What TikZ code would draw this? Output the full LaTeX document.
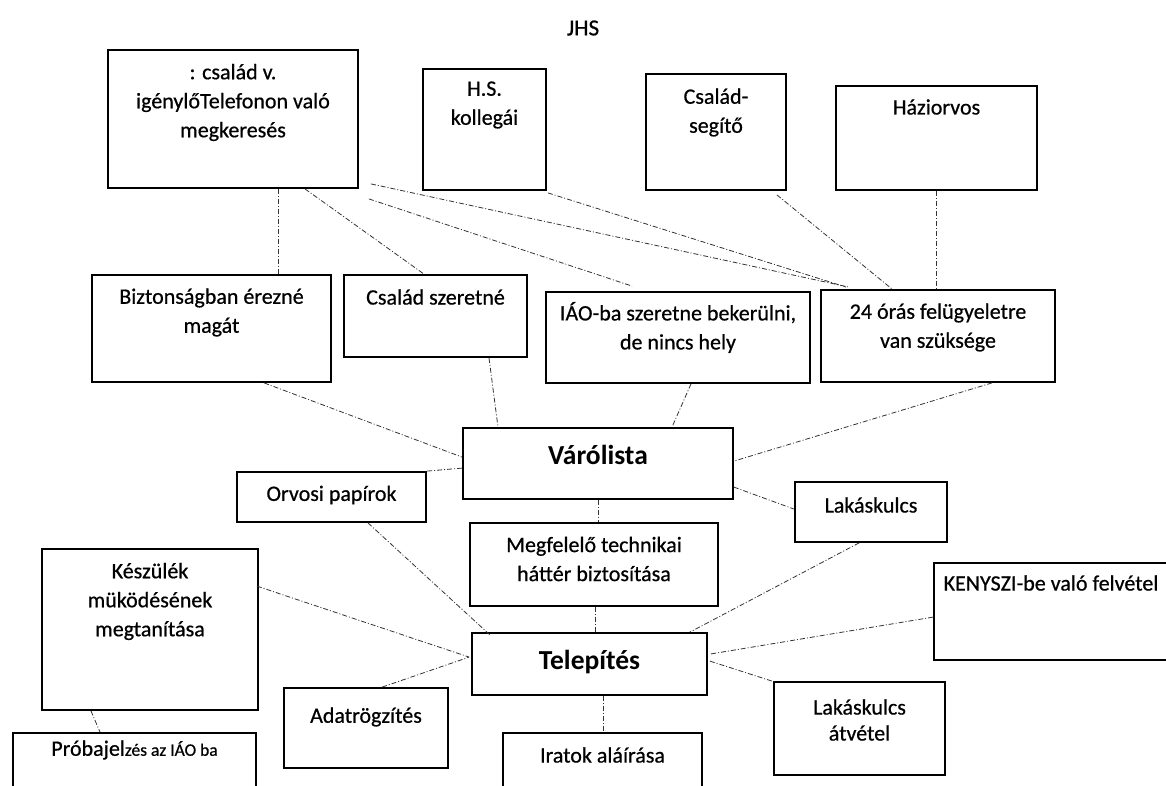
\documentclass[tikz,border=0pt]{standalone}
\usepackage{fontspec}
\setmainfont{Carlito}[UprightFeatures={RawFeature={embolden=0.6}}]
\usetikzlibrary{calc}
\begin{document}
\begin{tikzpicture}[x=1pt,y=-1pt,
  box/.style={draw=black, line width=1.8pt, inner sep=0pt, fill=none},
  txt/.style={align=center, inner sep=0pt, font=\fontsize{22}{29}\selectfont, text=black},
  big/.style={align=center, inner sep=0pt, font=\fontsize{27.5}{32}\selectfont\bfseries, text=black},
  link/.style={draw=black!80, line width=0.8pt, dash pattern=on 5pt off 2pt on 1pt off 2pt}]
\clip (0,0) rectangle (1166,785);
\fill[white] (0,0) rectangle (1166,785);
% boxes
\node[box, minimum width=250pt, minimum height=138pt] (A) at (233,119) {};
\node[box, minimum width=123pt, minimum height=121pt] (B) at (484.5,129.5) {};
\node[box, minimum width=140pt, minimum height=116pt] (C) at (716,132) {};
\node[box, minimum width=201pt, minimum height=104pt] (D) at (936.5,138) {};
\node[box, minimum width=239pt, minimum height=107pt] (E) at (211.5,328.5) {};
\node[box, minimum width=183pt, minimum height=82pt] (F) at (435.5,316) {};
\node[box, minimum width=264pt, minimum height=91pt] (H) at (678,337.5) {};
\node[box, minimum width=234pt, minimum height=92pt] (G) at (938,336) {};
\node[box, minimum width=270pt, minimum height=71pt] (V) at (598,463.5) {};
\node[box, minimum width=189pt, minimum height=50pt] (O) at (331.5,497) {};
\node[box, minimum width=152pt, minimum height=60pt] (L1) at (871,512) {};
\node[box, minimum width=248pt, minimum height=83pt] (M) at (594,564.5) {};
\node[box, minimum width=216pt, minimum height=161pt] (K) at (150,629.5) {};
\node[box, minimum width=266pt, minimum height=97pt] (KY) at (1067,611.5) {};
\node[box, minimum width=235pt, minimum height=62pt] (T) at (589.5,664) {};
\node[box, minimum width=164pt, minimum height=80pt] (AD) at (366,728) {};
\node[box, minimum width=171pt, minimum height=93pt] (L2) at (859.5,728.5) {};
\node[box, minimum width=199pt, minimum height=67pt] (I) at (602.5,766.5) {};
\node[box, minimum width=243pt, minimum height=67pt] (P) at (134.5,766.5) {};
% texts
\node[txt, font=\fontsize{23}{29}\selectfont] (title) at (583,28) {JHS};
\node[txt] (At) at (233,102.5) {: család v.\\igénylőTelefonon való\\megkeresés};
\node[txt] (Bt) at (484.5,105) {H.S.\\kollegái};
\node[txt] (Ct) at (716,112.5) {Család-\\segítő};
\node[txt] (Dt) at (936.5,107) {Háziorvos};
\node[txt] (Et) at (211.5,312.5) {Biztonságban érezné\\magát};
\node[txt] (Ft) at (435.5,297) {Család szeretné};
\node[txt] (Ht) at (678,327.5) {IÁO-ba szeretne bekerülni,\\de nincs hely};
\node[txt] (Gt) at (938,327.5) {24 órás felügyeletre\\van szüksége};
\node[big] (Vt) at (598,455) {Várólista};
\node[txt] (Ot) at (331.5,495) {Orvosi papírok};
\node[txt] (L1t) at (871,505) {Lakáskulcs};
\node[txt] (Mt) at (594,559) {Megfelelő technikai\\háttér biztosítása};
\node[txt] (Kt) at (150,601.5) {Készülék\\müködésének\\megtanítása};
\node[txt] (KYt) at (1051,583) {KENYSZI-be való felvétel};
\node[big] (Tt) at (589.5,662) {Telepítés};
\node[txt] (ADt) at (366,717) {Adatrögzítés};
\node[txt, font=\fontsize{22}{26}\selectfont] (L2t) at (859.5,720) {Lakáskulcs\\átvétel};
\node[txt] (It) at (602.5,755) {Iratok aláírása};
\node[txt] (Pt) at (134.5,750) {Próbajel{\fontsize{17.5}{20}\selectfont zés az IÁO ba}};
% connectors
\draw[link] (278,0 |- A.south) -- (278,0 |- E.north);
\draw[link] (305,0 |- A.south) -- (424,0 |- F.north);
\draw[link] ($(A.south east)+(12,-5)$) -- ($(G.north west)+(29,-2)$);
\draw[link] ($(A.south east)+(10,10)$) -- ($(H.north west)+(87,-5)$);
\draw[link] ($(B.south east)+(1,2)$) -- ($(G.north west)+(26,-2)$);
\draw[link] ($(C.south east)+(-10,4)$) -- ($(G.north west)+(72,0)$);
\draw[link] (936,0 |- D.south) -- (936,0 |- G.north);
\draw[link] ($(E.south west)+(173,0)$) -- ($(V.north west)+(0,30)$);
\draw[link] (489,0 |- F.south) -- (498,0 |- V.north);
\draw[link] (691,0 |- H.south) -- (672,0 |- V.north);
\draw[link] (992,0 |- G.south) -- ($(V.north east)+(0,34)$);
\draw[link] ($(V.north east)+(0,60)$) -- ($(L1.north west)+(0,28)$);
\draw[link] ($(V.north west)+(0,41)$) -- (O.north east);
\draw[link] (598,0 |- V.south) -- (598,0 |- M.north);
\draw[link] (595,0 |- M.south) -- (595,0 |- T.north);
\draw[link] (368,0 |- O.south) -- ($(T.north west)+(19,3)$);
\draw[link] ($(K.north east)+(-2,38)$) -- ($(T.north west)+(-2,25)$);
\draw[link] ($(AD.north west)+(99,0)$) -- ($(T.north west)+(-2,25)$);
\draw[link] ($(L1.south west)+(65,0)$) -- ($(T.north east)+(-18,0)$);
\draw[link] ($(KY.north west)+(0,55)$) -- ($(T.north east)+(2,22)$);
\draw[link] ($(T.north east)+(2,29)$) -- ($(L2.north west)+(2,1)$);
\draw[link] (603,0 |- T.south) -- (603,0 |- I.north);
\draw[link] (91,0 |- K.south) -- (100,0 |- P.north);
\end{tikzpicture}
\end{document}
